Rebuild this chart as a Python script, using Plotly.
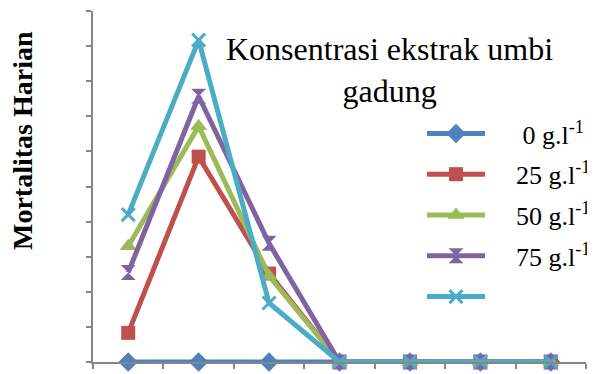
import plotly.graph_objects as go

# ---- data (in y-axis tick units) ----
days = ["1", "2", "3", "4", "5", "6", "7"]
conc_0 = [0, 0, 0, 0, 0, 0, 0]
conc_25 = [0.83, 5.85, 2.52, 0, 0, 0, 0]
conc_50 = [3.3, 6.72, 2.45, 0, 0, 0, 0]
conc_75 = [2.55, 7.57, 3.38, 0, 0, 0, 0]
conc_100 = [4.2, 9.17, 1.68, 0, 0, 0, 0]
series_names = ["0 g.l<sup>-1</sup>", "25 g.l<sup>-1</sup>", "50 g.l<sup>-1</sup>",
                "75 g.l<sup>-1</sup>", ""]
legend_title = "Konsentrasi ekstrak umbi<br>gadung"
y_title = "Mortalitas Harian"

series_values = [conc_0, conc_25, conc_50, conc_75, conc_100]
colors = ["#4F81BD", "#C0504D", "#9BBB59", "#8064A2", "#4BACC6"]
symbols = ["diamond", "square", "triangle-up", "hourglass", "x-thin-open"]
sizes = [15, 14, 15, 15, 13]
name_pad = [5, 4, 4, 4, 0]  # non-breaking spaces between legend sample and label

# The page body has an 8 px margin, so screen pixel targets are shifted by OFF.
OFF = 8
W, H = 595 - OFF, 374 - OFF
L, R, T, B = 93 - OFF, 586 - OFF, 11 - OFF, 362 - OFF
SERIF = "'Liberation Serif', 'Times New Roman', Times, serif"


def px_x(x):
    return (x - OFF - L) / (R - L)


def px_y(y):
    return (B - (y - OFF)) / (B - T)


fig = go.Figure()
for i, (name, vals) in enumerate(zip(series_names, series_values)):
    marker = dict(symbol=symbols[i], size=sizes[i], color=colors[i],
                  line=dict(width=3 if symbols[i].endswith("open") else 0, color=colors[i]))
    fig.add_trace(go.Scatter(
        x=days, y=vals, name="\u00a0" * name_pad[i] + name, mode="lines+markers",
        line=dict(color=colors[i], width=5),
        marker=marker, legendgroup=f"g{i}", cliponaxis=False,
    ))

axis_col = "#868686"
fig.update_xaxes(
    type="category", range=[-0.5, 6.5], showticklabels=False,
    tickson="boundaries", ticks="outside", ticklen=5, tickcolor=axis_col, tickwidth=1.5,
    showline=True, linecolor=axis_col, linewidth=1.5, showgrid=False, zeroline=False,
)
fig.update_yaxes(
    range=[0, 10], dtick=1, showticklabels=False,
    ticks="outside", ticklen=5, tickcolor=axis_col, tickwidth=1.5,
    showline=True, linecolor=axis_col, linewidth=1.5, showgrid=False, zeroline=False,
)

fig.update_layout(
    width=W, height=H,
    margin=dict(l=L, r=W - R, t=T, b=H - B, pad=0, autoexpand=False),
    plot_bgcolor="white", paper_bgcolor="white",
    font=dict(family=SERIF, color="black"),
    showlegend=True,
    legend=dict(
        x=px_x(422), y=px_y(110), xanchor="left", yanchor="top",
        font=dict(family=SERIF, size=26, color="black"),
        bgcolor="rgba(0,0,0,0)", itemwidth=58, tracegroupgap=4,
    ),
    annotations=[
        dict(text=legend_title, xref="paper", yref="paper",
             x=px_x(389.5), y=px_y(70), xanchor="center", yanchor="middle",
             showarrow=False, align="center",
             font=dict(family=SERIF, size=32, color="black")),
        dict(text=f"<b>{y_title}</b>", xref="paper", yref="paper",
             x=px_x(22), y=px_y(141), xanchor="center", yanchor="middle",
             textangle=-90, showarrow=False,
             font=dict(family=SERIF, size=28, color="black")),
    ],
)

fig.write_html("out.html")
